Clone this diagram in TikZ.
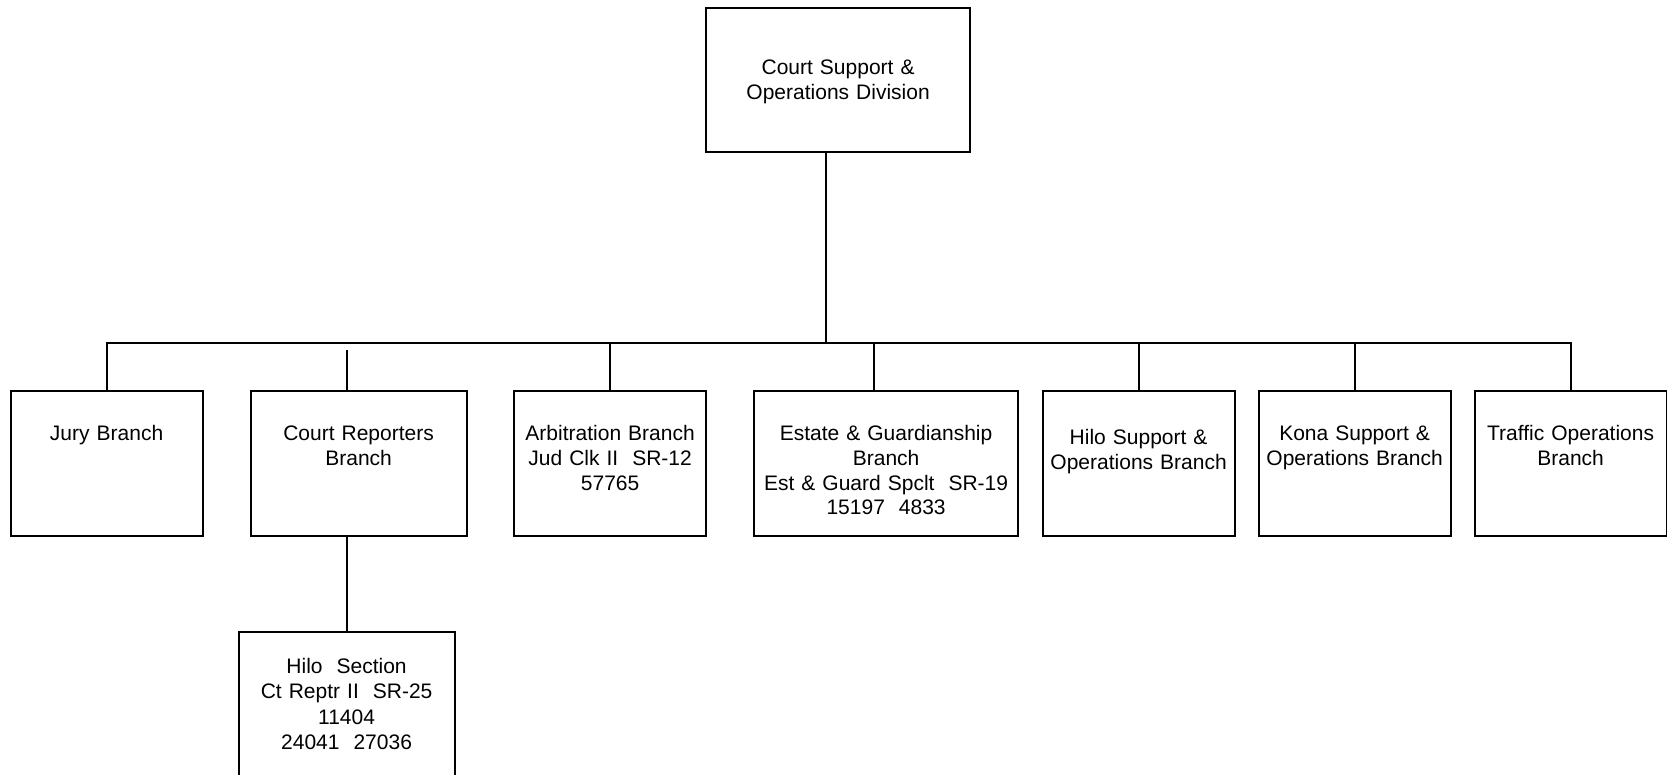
\documentclass[tikz,border=0pt]{standalone}
\usepackage{fontspec}
\setmainfont{Liberation Sans}
\usetikzlibrary{positioning}
\tikzstyle{division} = [rectangle, draw=black, line width=1pt, text width=132pt, inner sep=0pt, text height=33pt, text depth=38.75pt, align=center, font=\fontsize{10.5}{12.4}\selectfont]
\tikzstyle{branch} = [rectangle, draw=black, line width=1pt, text width=96pt, inner sep=0pt, text height=24.8pt, text depth=47.7pt, align=center, font=\fontsize{10.5}{12.4}\selectfont]
\tikzstyle{section} = [branch, text width=108pt, text height=20.8pt, text depth=70pt, font=\fontsize{10.5}{12.75}\selectfont]
\tikzstyle{link} = [line width=1pt]

\begin{document}
\begin{tikzpicture}
      \useasboundingbox (0,0) rectangle (833.5pt,-387.5pt);
      \clip (0,0) rectangle (833.5pt,-387.5pt);

      \node (jury) [branch] at (53.3pt,-231.75pt) {Jury Branch};
      \node (reporters) [branch, text width=108pt, right=23pt of jury] {Court Reporters\\Branch};
      \node (arbitration) [branch, right=22.75pt of reporters] {Arbitration Branch\\Jud Clk II\ \ SR-12\\57765};
      \node (estate) [branch, text width=132pt, right=23pt of arbitration] {Estate \& Guardianship\\Branch\\Est \& Guard Spclt\ \ SR-19\\15197\ \ 4833};
      \node (hilo) [branch, text height=26.9pt, text depth=45.6pt, right=11.25pt of estate] {Hilo Support \&\\Operations Branch};
      \node (kona) [branch, right=11pt of hilo] {Kona Support \&\\Operations Branch};
      \node (traffic) [branch, right=11pt of kona] {Traffic Operations\\Branch};
      \node (division) [division, above=118.5pt of estate, xshift=-24pt] {Court Support \&\\Operations Division};
      \node (hilosection) [section, below=46.75pt of reporters, xshift=-6pt] {Hilo\ \ Section\\Ct Reptr II\ \ SR-25\\11404\\24041\ \ 27036};

      % Lines
      \coordinate (bus) at (0,-171.7pt);
      \draw [link] ([xshift=-6pt]division.south) -- ([xshift=-6pt]division.south |- bus);
      \draw [link] (jury.north) -- (jury.north |- bus) -- (traffic.north |- bus) -- (traffic.north);
      \draw [link] ([xshift=-6pt,yshift=-3.3pt]reporters.north |- bus) -- ([xshift=-6pt]reporters.north);
      \draw [link] (arbitration.north |- bus) -- (arbitration.north);
      \draw [link] ([xshift=-6pt]estate.north |- bus) -- ([xshift=-6pt]estate.north);
      \draw [link] (hilo.north |- bus) -- (hilo.north);
      \draw [link] (kona.north |- bus) -- (kona.north);
      \draw [link] (reporters.south -| hilosection.north) -- (hilosection.north);

\end{tikzpicture}
\end{document}
